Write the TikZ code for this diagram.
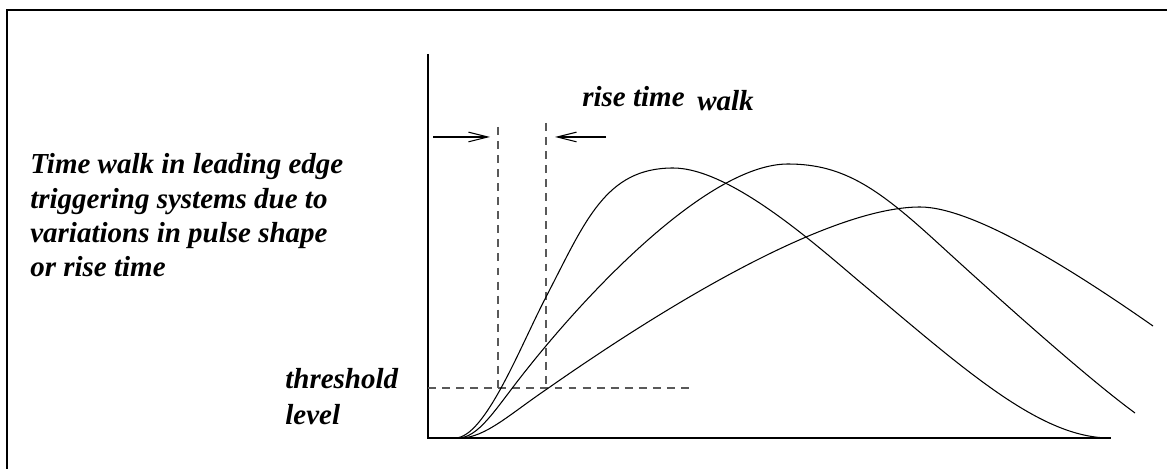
\documentclass[tikz,border=0pt]{standalone}
\usepackage{fontspec}
\setmainfont{Liberation Serif}
\usetikzlibrary{arrows.meta}

\begin{document}
\begin{tikzpicture}[
  x=0.02cm, y=-0.02cm,
  lbl/.style={inner sep=0pt, font=\fontsize{16.5}{19.6}\selectfont\bfseries\itshape, align=left},
  frame/.style={line width=1.1pt},
  axis/.style={line width=0.8pt},
  pulse/.style={line width=0.6pt},
  guide/.style={draw=black!65, line width=0.7pt, dash pattern=on 4.5pt off 3.5pt},
  arr/.style={-{Straight Barb[length=11pt,width=5.5pt]}, line width=0.6pt}
]
\useasboundingbox (0,0) rectangle (1167,469);

% open frame, left and top only
\draw[frame] (7,469) -- (7,10) -- (1167,10);

% labels (base = last line)
\node[lbl, anchor=base west] (caption) at (30,277) {Time walk in leading edge\\triggering systems due to\\variations in pulse shape\\or rise time};
\node[lbl, anchor=base west] (thr) at (285,425) {threshold\\[1.4pt]level};
\node[lbl, anchor=base west] (rise) at (582,107) {rise time};
\node[lbl, anchor=base west] (walk) at (697,111) {walk};

% axes
\coordinate (orig) at (428,438);
\coordinate (ytop) at (428,54);
\coordinate (xend) at (1111,438);
\draw[axis] (ytop) -- (orig) -- (xend);

% threshold and crossing marks
\coordinate (thl) at (428,388);
\coordinate (thr end) at (689,388);
\coordinate (t1top) at (498,127);
\coordinate (t1bot) at (498,388);
\coordinate (t2top) at (546,123);
\coordinate (t2bot) at (546,388);
\draw[guide] (thl) -- (thr end);
\draw[guide] (t1top) -- (t1bot);
\draw[guide] (t2top) -- (t2bot);

% walk arrows
\coordinate (w1s) at (433,137);
\coordinate (w1e) at (490,137);
\coordinate (w2s) at (606,137);
\coordinate (w2e) at (555,137);
\draw[arr] (w1s) -- (w1e);
\draw[arr] (w2s) -- (w2e);

% pulses
\draw[pulse] (455,438) .. controls (485,438) and (520,347) .. (546,297)
  .. controls (585,222) and (605,168) .. (673,168)
  .. controls (730,168) and (815,244) .. (860,282)
  .. controls (965,370) and (1040,438) .. (1110,438);
\draw[pulse] (458,438) .. controls (478,438) and (495,410) .. (520,378)
  .. controls (590,288) and (710,164) .. (788,164)
  .. controls (845,164) and (880,190) .. (940,245)
  .. controls (1010,309) and (1090,380) .. (1135,413);
\draw[pulse] (460,438) .. controls (485,438) and (510,414) .. (547,389)
  .. controls (710,275) and (845,207) .. (920,207)
  .. controls (975,207) and (1080,275) .. (1153,326);

\end{tikzpicture}
\end{document}
